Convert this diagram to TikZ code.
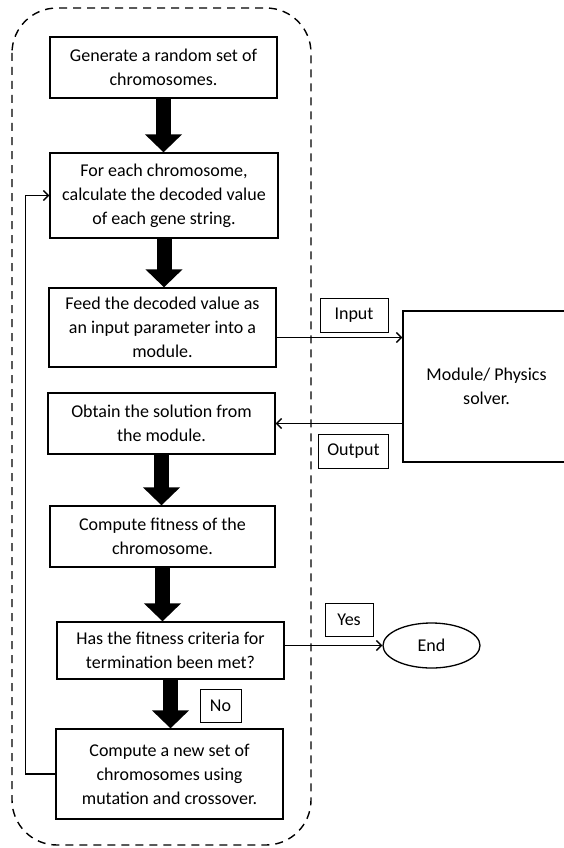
\documentclass[tikz,border=0pt]{standalone}
\usepackage{fontspec}
\setmainfont{Carlito}
\usetikzlibrary{arrows.meta,shapes.geometric,positioning}

\begin{document}
\begin{tikzpicture}[x=1pt,y=-1pt,
    box/.style={draw,line width=1.3pt,align=center,inner sep=0pt,font=\fontsize{18}{24}\selectfont},
    tag/.style={draw,line width=0.9pt,align=center,inner sep=0pt,font=\fontsize{18}{20}\selectfont},
    bigarrow/.style={line width=15pt,-{Triangle[width=36pt,length=18pt]}},
    link/.style={line width=1.4pt,-{Straight Barb[length=5pt,width=10pt]}}]
    \useasboundingbox (0,0) rectangle (564,848);
    \clip (0,0) rectangle (564,848);

    % dashed frame round the loop
    \draw[line width=1.4pt,dash pattern=on 8pt off 6pt,rounded corners=45pt] (12,8) rectangle (311,845);

    \node[box,minimum width=227,minimum height=61] (gen) at (163.5,67.5) {Generate a random set of\\chromosomes.};
    \node[box,minimum width=228,minimum height=85] (decode) at (164,195.5) {For each chromosome,\\calculate the decoded value\\of each gene string.};
    \node[box,minimum width=227,minimum height=79] (feed) at (162.5,327.5) {Feed the decoded value as\\an input parameter into a\\module.};
    \node[box,minimum width=227,minimum height=61] (obtain) at (161.5,423.5) {Obtain the solution from\\the module.};
    \node[box,minimum width=225,minimum height=61] (fitness) at (162.5,536.5) {Compute fitness of the\\chromosome.};
    \node[box,minimum width=227,minimum height=57] (check) at (170.5,650.5) {Has the fitness criteria for\\termination been met?};
    \node[box,minimum width=227,minimum height=90] (newset) at (169.5,774) {Compute a new set of\\chromosomes using\\mutation and crossover.};

    \node[box,minimum width=167,minimum height=151] (solver) at (486.5,386.5) {Module/ Physics\\solver.};
    \node[box,ellipse,minimum width=97,minimum height=45] (stop) at (431.5,645.5) {End};

    \node[tag,minimum width=68,minimum height=34] (input) at (354,315) {Input};
    \node[tag,minimum width=70,minimum height=34] (output) at (353.5,451) {Output};
    \node[tag,minimum width=48,minimum height=33] (yes) at (349,619.5) {Yes};
    \node[tag,minimum width=41,minimum height=33] (no) at (220.5,705.5) {No};

    \draw[bigarrow] (gen.south) -- (gen.south |- decode.north);
    \draw[bigarrow] (decode.south) -- (decode.south |- feed.north);
    \draw[bigarrow] (obtain.south) -- (obtain.south |- fitness.north);
    \draw[bigarrow] (fitness.south) -- (fitness.south |- check.north);
    \draw[bigarrow] (check.south) -- (check.south |- newset.north);

    \draw[link] ([yshift=-10pt]feed.east) -- ([yshift=-10pt]feed.east -| solver.west);
    \draw[link] (obtain.east -| solver.west) -- (obtain.east);
    \draw[link] (check.east |- stop.west) -- (stop.west);
    \draw[link] (newset.west) -- ++(-30,0) |- (decode.west);
\end{tikzpicture}
\end{document}
